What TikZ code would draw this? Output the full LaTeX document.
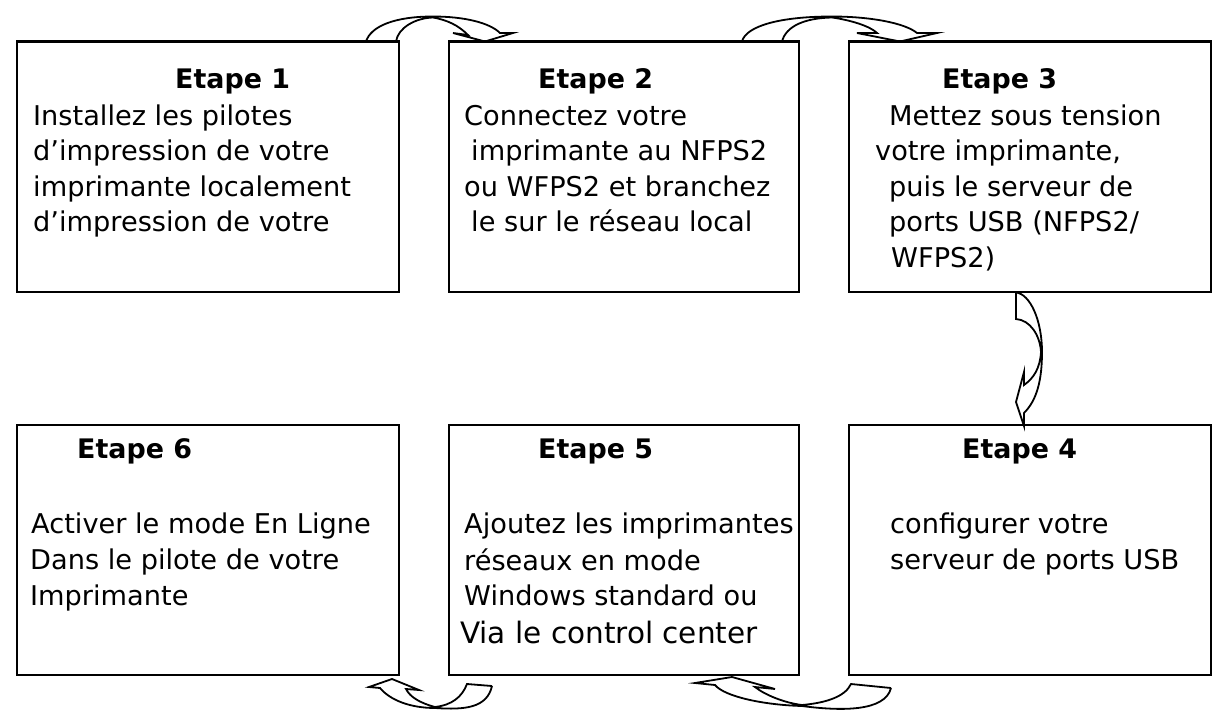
\documentclass[tikz,border=0pt]{standalone}
\usepackage{fontspec}
\setmainfont{DejaVu Sans}
\tikzset{
  stepbox/.style={draw=black,line width=2.1pt},
  ln/.style={anchor=base west,inner sep=0pt,font=\fontsize{27.2pt}{30pt}\selectfont},
  ttl/.style={anchor=base west,inner sep=0pt,font=\fontsize{26.9pt}{30pt}\selectfont\bfseries},
  flow/.style={draw=black,line width=1.8pt,fill=none,line join=miter}
}
\begin{document}
\begin{tikzpicture}[x=1pt,y=-1pt]
\useasboundingbox (0,0) rectangle (1229,720);
\path[stepbox] (17,41.5) rectangle (399,292);
\path[stepbox] (449,41.5) rectangle (799,292);
\path[stepbox] (849,41.5) rectangle (1211,292);
\path[stepbox] (17,425) rectangle (399,675);
\path[stepbox] (449,425) rectangle (799,675);
\path[stepbox] (849,425) rectangle (1211,675);
\node[ttl] (t1) at (175,88) {Etape 1};
\node[ln] (a1) at (33,125) {Installez les pilotes};
\node[ln] (a2) at (33,160) {d’impression de votre};
\node[ln] (a3) at (33,196) {imprimante localement};
\node[ln] (a4) at (33,231) {d’impression de votre};
\node[ttl] (t2) at (538,88) {Etape 2};
\node[ln] (b1) at (464,125) {Connectez votre};
\node[ln] (b2) at (471,160) {imprimante au NFPS2};
\node[ln] (b3) at (464,196) {ou WFPS2 et branchez};
\node[ln] (b4) at (471,231) {le sur le réseau local};
\node[ttl] (t3) at (942,88) {Etape 3};
\node[ln] (c1) at (889,125) {Mettez sous tension};
\node[ln] (c2) at (875,160) {votre imprimante,};
\node[ln] (c3) at (889,196) {puis le serveur de};
\node[ln] (c4) at (889,231) {ports USB (NFPS2/};
\node[ln] (c5) at (891,267) {WFPS2)};
\node[ttl] (t6) at (77,458) {Etape 6};
\node[ln] (d1) at (31,533) {Activer le mode En Ligne};
\node[ln] (d2) at (30,569) {Dans le pilote de votre};
\node[ln] (d3) at (30,605) {Imprimante};
\node[ttl] (t5) at (538,458) {Etape 5};
\node[ln] (e1) at (464,533) {Ajoutez les imprimantes};
\node[ln] (e2) at (464,570) {réseaux en mode};
\node[ln] (e3) at (464,605) {Windows standard ou};
\node[ln,font=\fontsize{29.5pt}{30pt}\selectfont] (e4) at (460,643) {Via le control center};
\node[ttl] (t4) at (962,458) {Etape 4};
\node[ln] (f1) at (890,533) {configurer votre};
\node[ln] (f2) at (890,569) {serveur de ports USB};
% curved arrows
\coordinate (p1) at (366,41.5);
\coordinate (p2) at (396,41.5);
\draw[flow] (p1) .. controls (371,26) and (395,16.5) .. (433,16.5) .. controls (465,16.5) and (490,23) .. (500,33) -- (513,33) -- (485,41.5) -- (453,33) -- (468,35) .. controls (458,25) and (447,20) .. (433,17.5) .. controls (415,18) and (398,28) .. (p2);
\coordinate (p3) at (742,41.5);
\coordinate (p4) at (782,41.5);
\draw[flow] (p3) .. controls (746,26) and (780,16.5) .. (832,16.5) .. controls (870,16.5) and (905,23) .. (917,33) -- (937,33) -- (900,41.5) -- (857,33) -- (877,33) .. controls (870,26) and (850,20) .. (832,17.5) .. controls (805,18) and (786,26) .. (p4);
\coordinate (p5) at (1016,292.5);
\draw[flow] (p5) .. controls (1030,294) and (1042,320) .. (1042,352) .. controls (1042,380) and (1037,400) .. (1024,413) -- (1024,426) -- (1016,402) -- (1024,372) -- (1024,385) .. controls (1034,378) and (1040,368) .. (1041,352) .. controls (1040,335) and (1030,320) .. (1016,319) -- cycle;
\coordinate (p6) at (492,686);
\draw[flow] (p6) -- (467,684) .. controls (462,697) and (452,705) .. (435,707) .. controls (420,703) and (410,697) .. (406,689) -- (419,690) -- (392,679) -- (369,687) -- (380,688) .. controls (390,700) and (410,708) .. (435,708) .. controls (465,710) and (487,708) .. (p6);
\coordinate (p7) at (891,688);
\draw[flow] (p7) -- (851,684) .. controls (845,697) and (825,703) .. (802,705) .. controls (785,703) and (765,695) .. (755,687) -- (775,689) -- (732,677) -- (695,683) -- (715,685) .. controls (725,697) and (765,705) .. (802,706) .. controls (840,711) and (885,712) .. (p7);
\end{tikzpicture}
\end{document}
